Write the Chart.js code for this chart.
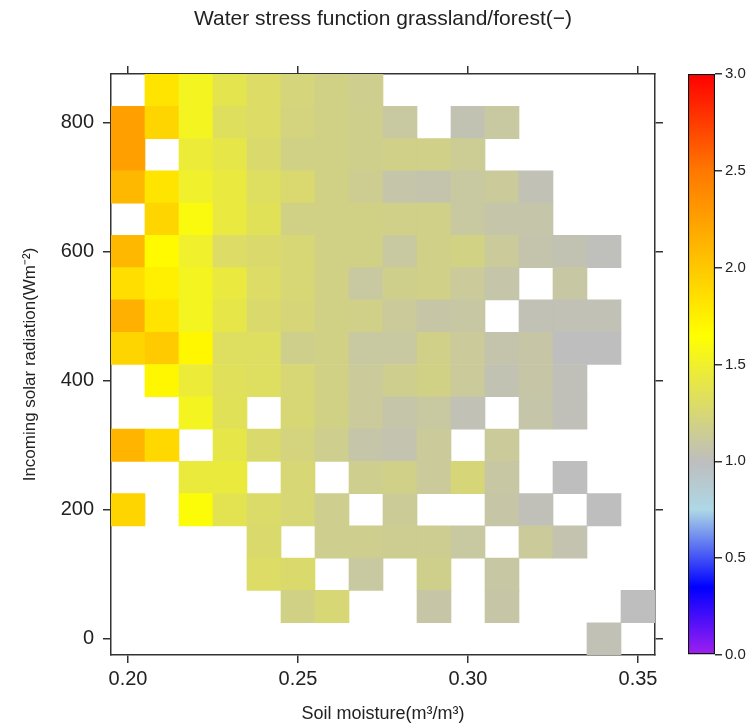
<!DOCTYPE html>
<html lang="en">

<head>
    <meta charset="UTF-8">
    <title>Water stress function grassland/forest</title>
    <script src="https://cdn.jsdelivr.net/npm/chart.js"></script>
    <style>
        body {
            margin: 0;
            background: #ffffff;
        }

        #wrap {
            position: relative;
            width: 753px;
            height: 726px;
        }

        #heatChart {
            position: absolute;
            left: 0;
            top: 0;
        }

        #barChart {
            position: absolute;
            left: 680px;
            top: 0;
        }
    </style>
</head>

<body>
    <div id="wrap">
        <canvas id="heatChart" width="753" height="726"></canvas>
        <canvas id="barChart" width="73" height="726"></canvas>
    </div>

    <script>
        // bins: soil moisture (columns) and incoming radiation (rows, top to bottom)
        const moistureBins = [0.20, 0.21, 0.22, 0.23, 0.24, 0.25, 0.26, 0.27, 0.28, 0.29, 0.30, 0.31, 0.32, 0.33, 0.34, 0.35];
        const radiationBins = [850, 800, 750, 700, 650, 600, 550, 500, 450, 400, 350, 300, 250, 200, 150, 100, 50, 0];

        // water stress ratio grassland/forest, one row per radiation bin (null = no data)
        const stressRows = [
            [null, 1.82, 1.54, 1.38, 1.30, 1.23, 1.19, 1.16, null, null, null, null, null, null, null, null],
            [2.25, 1.92, 1.54, 1.33, 1.30, 1.22, 1.19, 1.17, 1.10, null, 1.04, 1.10, null, null, null, null],
            [2.25, null, 1.46, 1.40, 1.28, 1.19, 1.19, 1.17, 1.18, 1.18, 1.14, null, null, null, null, null],
            [2.10, 1.82, 1.50, 1.43, 1.32, 1.27, 1.19, 1.15, 1.07, 1.06, 1.10, 1.12, 1.03, null, null, null],
            [null, 1.92, 1.60, 1.43, 1.35, 1.19, 1.19, 1.19, 1.18, 1.18, 1.10, 1.07, 1.07, null, null, null],
            [2.10, 1.68, 1.50, 1.30, 1.28, 1.25, 1.19, 1.19, 1.10, 1.18, 1.20, 1.12, 1.06, 1.04, 1.01, null],
            [1.86, 1.75, 1.54, 1.43, 1.30, 1.25, 1.19, 1.10, 1.17, 1.18, 1.12, 1.07, null, 1.09, null, null],
            [2.15, 1.82, 1.54, 1.40, 1.28, 1.24, 1.19, 1.18, 1.12, 1.08, 1.09, null, 1.03, 1.03, 1.03, null],
            [1.92, 1.98, 1.70, 1.32, 1.32, 1.17, 1.19, 1.10, 1.10, 1.18, 1.12, 1.06, 1.08, 1.00, 1.00, null],
            [null, 1.70, 1.46, 1.34, 1.32, 1.25, 1.19, 1.12, 1.16, 1.19, 1.12, 1.04, 1.08, 1.02, null, null],
            [null, null, 1.54, 1.35, null, 1.25, 1.19, 1.12, 1.07, 1.10, 1.03, null, 1.07, 1.02, null, null],
            [2.12, 1.90, null, 1.40, 1.28, 1.22, 1.16, 1.07, 1.05, 1.12, null, 1.12, null, null, null, null],
            [null, null, 1.44, 1.44, null, 1.25, null, 1.16, 1.18, 1.12, 1.24, 1.09, null, 1.00, null, null],
            [1.92, null, 1.62, 1.37, 1.29, 1.25, 1.16, null, 1.13, null, null, 1.08, 1.02, null, 1.00, null],
            [null, null, null, null, 1.28, null, 1.16, 1.16, 1.15, 1.15, 1.10, null, 1.12, 1.05, null, null],
            [null, null, null, null, 1.30, 1.28, null, 1.10, null, 1.17, null, 1.09, null, null, null, null],
            [null, null, null, null, null, 1.19, 1.25, null, null, 1.08, null, 1.08, null, null, null, 1.00],
            [null, null, null, null, null, null, null, null, null, null, null, null, null, null, 1.03, null]
        ];

        const xTicks = [0.20, 0.25, 0.30, 0.35];
        const yTicks = [0, 200, 400, 600, 800];
        const barTicks = [0, 0.5, 1.0, 1.5, 2.0, 2.5, 3.0];

        // colour scale
        const colorStops = [0, 0.35, 0.75, 1.0, 1.65, 2.0, 2.5, 3.0];
        const stopColors = ['#a020f0', '#0000ff', '#add8e6', '#bebebe', '#ffff00', '#ffc800', '#ff7800', '#ff0000'];

        const FONT = "'Liberation Sans', Arial, Helvetica, sans-serif";
        const INK = '#333333';

        const hexToRgb = h => [1, 3, 5].map(i => parseInt(h.substr(i, 2), 16));

        function colorFor(v) {
            let i = 1;
            while (i < colorStops.length - 1 && v > colorStops[i]) i++;
            const t = Math.max(0, Math.min(1, (v - colorStops[i - 1]) / (colorStops[i] - colorStops[i - 1])));
            const a = hexToRgb(stopColors[i - 1]);
            const b = hexToRgb(stopColors[i]);
            const c = a.map((x, k) => Math.round(x + (b[k] - x) * t));
            return 'rgb(' + c.join(',') + ')';
        }

        const half = (radiationBins[0] - radiationBins[1]) / 2;
        const cells = [];
        radiationBins.forEach((rad, r) => {
            stressRows[r].forEach((v, c) => {
                if (v !== null) cells.push({ x: moistureBins[c], y: [rad - half, rad + half], v: v });
            });
        });

        const frameAxis = (extra) => Object.assign({
            type: 'linear',
            offset: false,
            grid: { drawOnChartArea: false, offset: false, tickLength: 8, color: INK, lineWidth: 1.5 },
            border: { display: true, color: INK, width: 1.5 }
        }, extra);

        new Chart(document.getElementById('heatChart').getContext('2d'), {
            type: 'bar',
            data: {
                datasets: [{
                    data: cells,
                    backgroundColor: ctx => colorFor(ctx.raw.v),
                    borderWidth: 0,
                    barPercentage: 1,
                    categoryPercentage: 1
                }]
            },
            options: {
                responsive: false,
                animation: false,
                layout: { padding: 0 },
                plugins: { legend: { display: false }, tooltip: { enabled: false } },
                scales: {
                    x: frameAxis({
                        position: 'bottom',
                        min: 0.195, max: 0.355,
                        afterBuildTicks: s => { s.ticks = xTicks.map(v => ({ value: v })); },
                        afterFit: s => { s.height = 71; },
                        ticks: { font: { family: FONT, size: 20 }, color: '#222', padding: 4, callback: v => v.toFixed(2) },
                        title: { display: true, text: 'Soil moisture(m³/m³)', font: { family: FONT, size: 18 }, color: '#222', padding: { top: 0, bottom: 1 } }
                    }),
                    x2: frameAxis({
                        axis: 'x',
                        position: 'top',
                        min: 0.195, max: 0.355,
                        afterBuildTicks: s => { s.ticks = xTicks.map(v => ({ value: v })); },
                        afterFit: s => { s.height = 74; },
                        ticks: { display: false },
                        title: { display: true, text: 'Water stress function grassland/forest(−)', font: { family: FONT, size: 21 }, color: '#222', padding: { top: 7, bottom: 0 } }
                    }),
                    y: frameAxis({
                        position: 'left',
                        min: -25, max: 875,
                        afterBuildTicks: s => { s.ticks = yTicks.map(v => ({ value: v })); },
                        afterFit: s => { s.width = 111; },
                        ticks: { font: { family: FONT, size: 20 }, color: '#222', padding: 9, callback: v => String(v) },
                        title: { display: true, text: 'Incoming solar radiation(Wm⁻²)', font: { family: FONT, size: 17 }, color: '#222', padding: { top: 20, bottom: 0 } }
                    }),
                    y2: frameAxis({
                        axis: 'y',
                        position: 'right',
                        min: -25, max: 875,
                        afterBuildTicks: s => { s.ticks = yTicks.map(v => ({ value: v })); },
                        afterFit: s => { s.width = 98; },
                        ticks: { display: false }
                    })
                }
            }
        });

        // colour key
        new Chart(document.getElementById('barChart').getContext('2d'), {
            type: 'bar',
            data: {
                labels: ['key'],
                datasets: [{
                    data: [[barTicks[0], barTicks[barTicks.length - 1]]],
                    backgroundColor: ctx => {
                        const chart = ctx.chart;
                        const ys = chart.scales.y;
                        if (!chart.chartArea || !ys) return stopColors[3];
                        const lo = barTicks[0], hi = barTicks[barTicks.length - 1];
                        const g = chart.ctx.createLinearGradient(0, ys.getPixelForValue(lo), 0, ys.getPixelForValue(hi));
                        colorStops.forEach((s, i) => g.addColorStop((s - lo) / (hi - lo), stopColors[i]));
                        return g;
                    },
                    borderColor: '#111',
                    borderWidth: 1.5,
                    borderSkipped: false,
                    barPercentage: 1,
                    categoryPercentage: 1
                }]
            },
            options: {
                responsive: false,
                animation: false,
                layout: { padding: { left: 8, top: 74, bottom: 71, right: 0 } },
                plugins: { legend: { display: false }, tooltip: { enabled: false } },
                scales: {
                    x: { display: false },
                    y: {
                        position: 'right',
                        min: 0, max: 3,
                        afterBuildTicks: s => { s.ticks = barTicks.map(v => ({ value: v })); },
                        afterFit: s => { s.width = 38; },
                        grid: { drawOnChartArea: false, tickLength: 7, color: INK, lineWidth: 1.5 },
                        border: { display: false },
                        ticks: { font: { family: FONT, size: 15 }, color: '#222', padding: 3, callback: v => v.toFixed(1) }
                    }
                }
            }
        });
    </script>
</body>

</html>
